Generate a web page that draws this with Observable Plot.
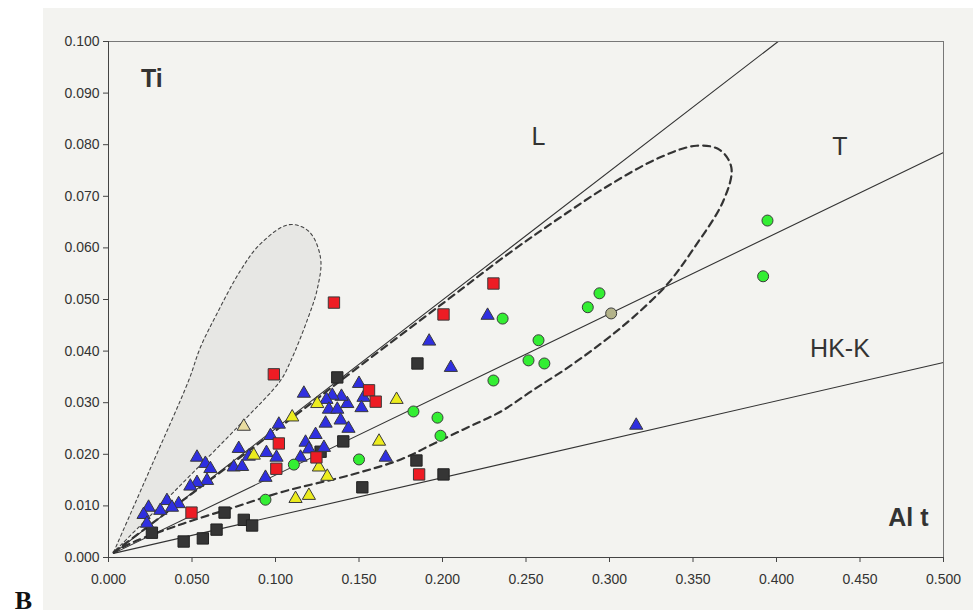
<!DOCTYPE html>
<html><head><meta charset="utf-8">
<script src="https://cdn.jsdelivr.net/npm/d3@7"></script>
<script src="https://cdn.jsdelivr.net/npm/@observablehq/plot@0.6"></script>
<style>
html,body{margin:0;padding:0;background:#fff;}
#wrap{position:relative;width:973px;height:614px;overflow:hidden;}
#paper{position:absolute;left:43px;top:8px;width:930px;height:602px;background:#f3f3f0;}
#chart{position:absolute;left:0;top:0;}
</style></head><body>
<div id="wrap"><div id="paper"></div><div id="chart"></div></div>
<script>
// axis ticks
const xTicks = [0, 0.05, 0.1, 0.15, 0.2, 0.25, 0.3, 0.35, 0.4, 0.45, 0.5];
const yTicks = [0, 0.01, 0.02, 0.03, 0.04, 0.05, 0.06, 0.07, 0.08, 0.09, 0.1];

// discriminant lines [Al t, Ti]
const lineL = [[0.003, 0.0008], [0.401, 0.1]];
const lineT = [[0.003, 0.0008], [0.5, 0.0785]];
const lineHKK = [[0.003, 0.0008], [0.5, 0.0378]];

// field outlines [Al t, Ti]
const greyField = [[0.003,0.001],[0.025,0.0172],[0.048,0.0343],[0.055,0.0407],[0.065,0.0473],[0.079,0.0556],[0.091,0.0608],[0.108,0.0645],[0.120,0.0632],[0.127,0.0580],[0.125,0.0520],[0.119,0.0460],[0.109,0.0380],[0.103,0.0343],[0.080,0.0262],[0.040,0.0130],[0.003,0.001]];
const dashedField = [[0.003,0.001],[0.05,0.0124],[0.10,0.0246],[0.15,0.0370],[0.20,0.0492],[0.24,0.0590],[0.27,0.0658],[0.30,0.0722],[0.33,0.0775],[0.352,0.0798],[0.366,0.0790],[0.373,0.0755],[0.368,0.0690],[0.350,0.0597],[0.335,0.0531],[0.314,0.0465],[0.295,0.0415],[0.275,0.0368],[0.254,0.0324],[0.235,0.0283],[0.215,0.0252],[0.195,0.0221],[0.175,0.0190],[0.145,0.0160],[0.105,0.0128],[0.075,0.0097],[0.045,0.0066],[0.015,0.0030],[0.003,0.001]];

// samples [Al t, Ti]
const redSquares = [[0.099,0.0355],[0.135,0.0494],[0.2006,0.0471],[0.2305,0.0531],[0.156,0.0324],[0.160,0.0302],[0.102,0.0221],[0.1005,0.0172],[0.1245,0.0194],[0.0497,0.0087],[0.186,0.0161]];
const blackSquares = [[0.137,0.0349],[0.185,0.0376],[0.1406,0.0225],[0.127,0.0205],[0.1844,0.0188],[0.2006,0.0161],[0.152,0.0136],[0.0695,0.0087],[0.081,0.0073],[0.086,0.0062],[0.0647,0.0054],[0.0565,0.0037],[0.045,0.0031],[0.026,0.0048]];
const greenCircles = [[0.111,0.018],[0.094,0.0112],[0.150,0.019],[0.1826,0.0283],[0.197,0.0271],[0.1988,0.0236],[0.2305,0.0343],[0.236,0.0463],[0.2575,0.0421],[0.2515,0.0382],[0.261,0.0376],[0.287,0.0485],[0.294,0.0512],[0.3946,0.0653],[0.392,0.0545]];
const khakiCircles = [[0.301,0.0473]];
const yellowTriangles = [[0.125,0.0298],[0.110,0.0272],[0.087,0.0198],[0.126,0.0175],[0.131,0.0157],[0.112,0.0114],[0.120,0.012],[0.1725,0.0306],[0.162,0.0225]];
const paleTriangles = [[0.081,0.0254]];
const blueTriangles = [[0.117,0.0318],[0.150,0.0337],[0.1527,0.031],[0.1515,0.029],[0.143,0.0298],[0.1395,0.0312],[0.134,0.0314],[0.1305,0.0306],[0.132,0.0287],[0.137,0.0287],[0.139,0.0266],[0.1437,0.025],[0.130,0.026],[0.124,0.0238],[0.118,0.0223],[0.129,0.0213],[0.120,0.021],[0.115,0.0194],[0.102,0.0258],[0.097,0.0236],[0.0946,0.0203],[0.1006,0.0194],[0.094,0.0155],[0.166,0.0194],[0.192,0.0419],[0.227,0.0469],[0.205,0.0368],[0.316,0.0256],[0.084,0.0196],[0.078,0.0211],[0.075,0.0175],[0.080,0.0176],[0.053,0.0194],[0.058,0.0182],[0.061,0.0172],[0.059,0.0149],[0.053,0.0145],[0.049,0.0138],[0.035,0.011],[0.042,0.0104],[0.038,0.0097],[0.024,0.0097],[0.021,0.0083],[0.023,0.0066],[0.031,0.0091]];

// annotations
const fieldLabels = [{t:"L", x:0.2575, y:0.0814},{t:"T", x:0.438, y:0.0795},{t:"HK-K", x:0.438, y:0.0405}];
const axisNames = [{t:"Ti", x:0.026, y:0.0928},{t:"Al t", x:0.479, y:0.0076}];
const panelLetter = [{t:"B", x:-0.051, y:-0.0083}];

const X = d => d[0], Y = d => d[1];
const stroke = "#3a3a3a";

const chart = Plot.plot({
  width: 973, height: 614,
  marginLeft: 108, marginRight: 30, marginTop: 41, marginBottom: 57,
  style: {background: "transparent", fontFamily: "'Liberation Sans', Arial, sans-serif", color: "#333"},
  x: {domain: [0, 0.5]},
  y: {domain: [0, 0.1]},
  marks: [
    Plot.line(greyField, {x: X, y: Y, curve: "catmull-rom", fill: "#e7e7e4", stroke: "#444", strokeWidth: 1.1, strokeDasharray: "3,3"}),
    Plot.line(lineL, {x: X, y: Y, stroke: "#333", strokeWidth: 1.1}),
    Plot.line(lineT, {x: X, y: Y, stroke: "#333", strokeWidth: 1.1}),
    Plot.line(lineHKK, {x: X, y: Y, stroke: "#333", strokeWidth: 1.1}),
    Plot.line(dashedField, {x: X, y: Y, curve: "catmull-rom", stroke: "#333", strokeWidth: 2.2, strokeDasharray: "7,5"}),
    Plot.frame({stroke: "#777", strokeWidth: 1}),
    Plot.ruleX([0], {stroke: "#444"}),
    Plot.ruleY([0], {stroke: "#444"}),
    Plot.axisX(xTicks, {tickFormat: d3.format(".3f"), tickSize: 5, tickPadding: 12, fontSize: 14, label: null, stroke: "#444"}),
    Plot.axisY(yTicks, {tickFormat: d3.format(".3f"), tickSize: 5, tickPadding: 4, fontSize: 14, label: null, stroke: "#444"}),
    Plot.dot(blackSquares, {x: X, y: Y, symbol: "square", r: 6.4, fill: "#353535", stroke: "#222", strokeWidth: 1}),
    Plot.dot(blueTriangles, {x: X, y: Y, symbol: "triangle", r: 4.9, fill: "#2f2fe0", stroke: stroke, strokeWidth: 1}),
    Plot.dot(yellowTriangles, {x: X, y: Y, symbol: "triangle", r: 4.9, fill: "#ecec1e", stroke: stroke, strokeWidth: 1}),
    Plot.dot(paleTriangles, {x: X, y: Y, symbol: "triangle", r: 4.9, fill: "#e9dca0", stroke: stroke, strokeWidth: 1}),
    Plot.dot(greenCircles, {x: X, y: Y, symbol: "circle", r: 5.5, fill: "#33ee33", stroke: stroke, strokeWidth: 1}),
    Plot.dot(khakiCircles, {x: X, y: Y, symbol: "circle", r: 5.5, fill: "#b3b38a", stroke: stroke, strokeWidth: 1}),
    Plot.dot(redSquares, {x: X, y: Y, symbol: "square", r: 6.4, fill: "#ee1c24", stroke: stroke, strokeWidth: 1}),
    Plot.text(fieldLabels, {x: "x", y: "y", text: "t", fontSize: 25, fill: "#333"}),
    Plot.text(axisNames, {x: "x", y: "y", text: "t", fontSize: 25, fontWeight: "bold", fill: "#333"}),
    Plot.text(panelLetter, {x: "x", y: "y", text: "t", fontSize: 26, fontWeight: "bold", fontFamily: "'Liberation Serif', 'Times New Roman', serif", fill: "#111"})
  ]
});
document.getElementById("chart").appendChild(chart);
</script>
</body></html>
